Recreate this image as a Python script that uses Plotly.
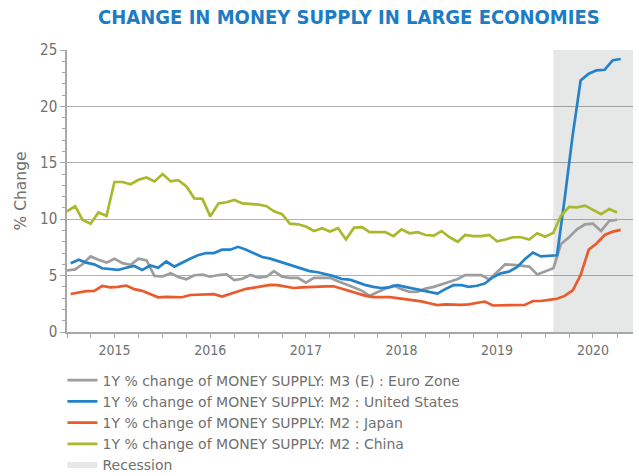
import pandas as pd
import plotly.graph_objects as go

# ---- data (monthly, Jan 2015 .. Oct 2020) ----
months = pd.date_range("2015-01-01", periods=70, freq="MS")
months_mid = months + pd.Timedelta(days=14)

euro_m3 = [5.45, 5.55, 6.0, 6.7, 6.4, 6.15, 6.5, 6.1, 5.95, 6.5, 6.35, 4.97,
           4.92, 5.2, 4.88, 4.67, 5.03, 5.08, 4.9, 5.05, 5.1, 4.6, 4.72, 5.05,
           4.83, 4.9, 5.4, 4.9, 4.8, 4.8, 4.37, 4.8, 4.8, 4.8, 4.5, 4.25,
           3.95, 3.65, 3.2, 3.55, 3.85, 4.15, 3.8, 3.55, 3.58, 3.85, 4.0, 4.2,
           4.45, 4.7, 5.05, 5.05, 5.05, 4.65, 5.35, 6.0, 5.95, 5.85, 5.8, 5.1,
           5.35, 5.65, 7.8, 8.4, 9.1, 9.55, 9.6, 8.95, 9.85, 9.95]

us_m2 = [6.1, 6.4, 6.15, 6.0, 5.65, 5.55, 5.5, 5.7, 5.85, 5.5, 5.9, 5.7,
         6.25, 5.8, 6.15, 6.5, 6.8, 7.0, 7.0, 7.3, 7.3, 7.55, 7.3, 6.95,
         6.65, 6.5, 6.3, 6.05, 5.8, 5.6, 5.4, 5.3, 5.15, 4.95, 4.7, 4.65,
         4.4, 4.15, 4.0, 3.9, 3.95, 4.15, 4.0, 3.85, 3.7, 3.5, 3.4, 3.8,
         4.15, 4.15, 4.0, 4.1, 4.3, 4.85, 5.2, 5.35, 5.75, 6.45, 7.05, 6.7,
         6.75, 6.8, 11.8, 17.5, 22.3, 22.9, 23.2, 23.25, 24.1, 24.2]

japan_m2 = [3.37, 3.5, 3.62, 3.65, 4.08, 3.95, 4.0, 4.12, 3.8, 3.65, 3.35, 3.07,
            3.12, 3.12, 3.08, 3.28, 3.32, 3.37, 3.36, 3.15, 3.4, 3.65, 3.83, 3.93,
            4.05, 4.18, 4.15, 4.05, 3.9, 3.95, 4.0, 4.0, 4.05, 4.05, 3.85, 3.6,
            3.4, 3.2, 3.1, 3.1, 3.1, 3.0, 2.9, 2.8, 2.72, 2.55, 2.38, 2.45,
            2.4, 2.4, 2.45, 2.55, 2.7, 2.35, 2.35, 2.4, 2.4, 2.4, 2.75, 2.75,
            2.85, 2.95, 3.2, 3.7, 5.05, 7.3, 7.85, 8.6, 8.9, 9.05]

china_m2 = [10.7, 11.15, 9.95, 9.6, 10.6, 10.3, 13.3, 13.3, 13.1, 13.5, 13.7, 13.35,
            14.0, 13.35, 13.45, 12.9, 11.85, 11.8, 10.25, 11.4, 11.5, 11.7, 11.4, 11.35,
            11.3, 11.15, 10.7, 10.45, 9.6, 9.55, 9.35, 8.95, 9.2, 8.9, 9.2, 8.2,
            9.25, 9.3, 8.85, 8.85, 8.85, 8.5, 9.1, 8.75, 8.85, 8.6, 8.55, 8.95,
            8.4, 8.0, 8.6, 8.5, 8.5, 8.6, 8.05, 8.2, 8.4, 8.4, 8.2, 8.75,
            8.45, 8.8, 10.3, 11.1, 11.05, 11.2, 10.8, 10.45, 10.9, 10.6]

recession_start = "2020-02-01"
x_start, x_end = "2015-01-01", "2020-12-01"
y_min, y_max = 0, 25
year_labels = ["2015", "2016", "2017", "2018", "2019", "2020"]
year_ticks = [f"{y}-07-01" for y in year_labels]

series = [
    ("1Y % change of MONEY SUPPLY: M3 (E) : Euro Zone", months, euro_m3, "#9d9d9d"),
    ("1Y % change of MONEY SUPPLY: M2 : United States", months_mid, us_m2, "#2582c9"),
    ("1Y % change of MONEY SUPPLY: M2 : Japan", months_mid, japan_m2, "#ea5a2b"),
    ("1Y % change of MONEY SUPPLY: M2 : China", months, china_m2, "#a9b92e"),
]

FONT = "DejaVu Sans Condensed, DejaVu Sans, sans-serif"
LEG_FONT = "DejaVu Sans, sans-serif"
GREY_TXT = "#707070"

fig = go.Figure()

# recession band (semi-transparent so grid lines still show through)
fig.add_trace(go.Scatter(
    x=[recession_start, recession_start, x_end, x_end, recession_start],
    y=[y_min, y_max, y_max, y_min, y_min],
    mode="none", fill="toself", fillcolor="rgba(60,70,70,0.13)",
    name="Recession", legendrank=5, hoverinfo="skip"))

for rank, (name, xs, ys, col) in enumerate(series, start=1):
    fig.add_trace(go.Scatter(x=xs, y=ys, mode="lines", name=name,
                             line=dict(color=col, width=2.7),
                             legendrank=rank))

fig.update_layout(
    width=639, height=476,
    margin=dict(l=67, r=6, t=50, b=144, autoexpand=False),
    paper_bgcolor="white", plot_bgcolor="white",
    font=dict(family=FONT, color=GREY_TXT, size=13),
    title=dict(text="CHANGE IN MONEY SUPPLY IN LARGE ECONOMIES",
               font=dict(family=FONT, size=20, color="#1d7cc2", weight="bold"),
               x=0.546, xanchor="center", xref="container",
               y=0.964, yanchor="middle", yref="container"),
    legend=dict(x=-0.008, xanchor="left", y=0.234, yanchor="top",
                yref="container",
                font=dict(size=14, color=GREY_TXT, family=LEG_FONT),
                bgcolor="rgba(0,0,0,0)", tracegroupgap=0,
                itemwidth=30),
    showlegend=True,
)

fig.update_xaxes(
    type="date", range=[x_start, x_end], automargin=False,
    showgrid=False, zeroline=False,
    showline=True, linecolor="#a8a8a8", linewidth=1.5,
    tickmode="array", tickvals=year_ticks, ticktext=year_labels,
    ticks="outside", ticklen=4, tickcolor="#a8a8a8", tickwidth=1,
    tickfont=dict(size=14, color=GREY_TXT),
    minor=dict(ticks="outside", ticklen=4, tickcolor="#a8a8a8",
               dtick="M3", tick0="2015-01-01", showgrid=False),
)

fig.update_yaxes(
    range=[y_min, y_max], tick0=0, dtick=5, automargin=False,
    showgrid=True, gridcolor="#b0b0b0", gridwidth=1.4,
    zeroline=False,
    showline=True, linecolor="#a8a8a8", linewidth=1.5,
    ticks="outside", ticklen=5, tickcolor="#a8a8a8",
    tickfont=dict(size=15, color=GREY_TXT),
    minor=dict(ticks="outside", ticklen=3, tickcolor="#a8a8a8", dtick=1,
               showgrid=False),
    title=dict(text="% Change",
               font=dict(size=15.5, color=GREY_TXT, family=LEG_FONT),
               standoff=10),
)

fig.write_html("out.html",
               config={"displayModeBar": False},
               post_script="document.body.style.margin='0';document.body.style.overflow='hidden';")
